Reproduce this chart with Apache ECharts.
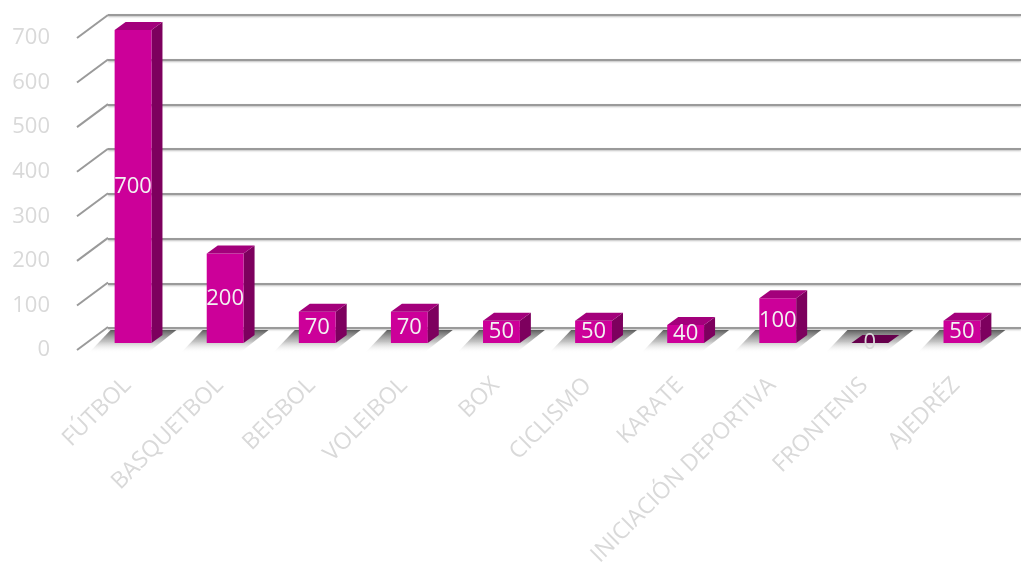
<!DOCTYPE html>
<html>
<head>
<meta charset="utf-8">
<script src="https://cdn.jsdelivr.net/npm/echarts@6/dist/echarts.min.js"></script>
<style>
  html, body { margin: 0; padding: 0; background: #fff; }
  #chart { width: 1021px; height: 563px; }
</style>
</head>
<body>
<div id="chart"></div>
<script>
const categories = ['FÚTBOL', 'BASQUETBOL', 'BEISBOL', 'VOLEIBOL', 'BOX', 'CICLISMO', 'KARATE', 'INICIACIÓN DEPORTIVA', 'FRONTENIS', 'AJEDRÉZ'];
const values = [700, 200, 70, 70, 50, 50, 40, 100, 0, 50];
const yTicks = [0, 100, 200, 300, 400, 500, 600, 700];

// 3d look: wall depth and bar depth (pixels)
const WALL_DX = 31, WALL_DY = -23;
const BAR_DX = 11, BAR_DY = -8;
const FONT = 'Open Sans';

const chart = echarts.init(document.getElementById('chart'));

function barGeom(api) {
  const i = api.value(0), v = api.value(1);
  const base = api.coord([i, 0]);
  const top = api.coord([i, v]);
  const w = api.size([1, 0])[0] * 0.4;
  return { v: v, cx: base[0], xl: base[0] - w / 2, xr: base[0] + w / 2, yb: base[1], yt: top[1], w: w };
}

function renderShadow(params, api) {
  const g = barGeom(api);
  const yTop = g.yb - 13, yBot = g.yb + 10;
  return {
    type: 'polygon',
    shape: { points: [[g.xl - 4, yTop], [g.xr + BAR_DX + 14, yTop], [g.xr - 4, yBot], [g.xl - 26, yBot]] },
    style: {
      fill: new echarts.graphic.LinearGradient(0, 0, 0, 1, [
        { offset: 0, color: 'rgba(40,40,40,0.75)' },
        { offset: 0.5, color: 'rgba(120,120,120,0.45)' },
        { offset: 1, color: 'rgba(255,255,255,0)' }
      ])
    }
  };
}

function renderBar(params, api) {
  const g = barGeom(api);
  const children = [];
  if (g.v > 0) {
    children.push({
      type: 'polygon',
      shape: { points: [[g.xr, g.yb], [g.xr + BAR_DX, g.yb + BAR_DY], [g.xr + BAR_DX, g.yt + BAR_DY], [g.xr, g.yt]] },
      style: { fill: '#7d005e' }
    });
    children.push({
      type: 'rect',
      shape: { x: g.xl, y: g.yt, width: g.w, height: g.yb - g.yt },
      style: { fill: '#cc0099' }
    });
  }
  children.push({
    type: 'polygon',
    shape: { points: [[g.xl, g.yt], [g.xr, g.yt], [g.xr + BAR_DX, g.yt + BAR_DY], [g.xl + BAR_DX, g.yt + BAR_DY]] },
    style: { fill: g.v > 0 ? '#a3007b' : '#66004c' }
  });
  children.push({
    type: 'text',
    style: {
      text: String(g.v), x: g.cx, y: (g.yt + g.yb) / 2,
      align: 'center', verticalAlign: 'middle',
      fill: g.v > 0 ? '#f2f2f2' : '#d9d9d9', fontSize: 22, fontFamily: FONT
    }
  });
  return { type: 'group', children: children };
}

function renderTick(params, api) {
  const p = api.coord([0, api.value(1)]);
  return {
    type: 'line',
    shape: { x1: p[0], y1: p[1], x2: p[0] + WALL_DX, y2: p[1] + WALL_DY },
    style: { stroke: '#9a9a9a', lineWidth: 2 }
  };
}

const option = {
  backgroundColor: '#fff',
  animation: false,
  grid: [
    // back wall
    { left: 108, right: 0, top: 15, height: 313, outerBoundsMode: 'none' },
    // front edge, carries the value labels
    { left: 77, width: 31, top: 38, height: 312, outerBoundsMode: 'none' },
    // bar front plane
    { left: 87, width: 921, top: 30, height: 313, outerBoundsMode: 'none' }
  ],
  xAxis: [
    { gridIndex: 0, type: 'value', min: 0, max: 1, show: false },
    { gridIndex: 1, type: 'value', min: 0, max: 1, show: false },
    {
      gridIndex: 2, type: 'category', data: categories,
      axisLine: { show: false }, axisTick: { show: false },
      axisLabel: {
        interval: 0, rotate: 45, margin: 33, padding: [0, 8, 0, 0],
        color: '#d9d9d9', fontSize: 23, fontFamily: FONT
      }
    }
  ],
  yAxis: [
    {
      gridIndex: 0, type: 'value', min: 0, max: 700, interval: 100,
      axisLine: { show: false }, axisTick: { show: false }, axisLabel: { show: false },
      splitLine: { lineStyle: { color: '#9a9a9a', width: 2, shadowColor: 'rgba(0,0,0,0.25)', shadowBlur: 2, shadowOffsetY: 1 } }
    },
    {
      gridIndex: 1, type: 'value', min: 0, max: 700, interval: 100,
      axisLine: { show: false }, axisTick: { show: false }, splitLine: { show: false },
      axisLabel: { margin: 27, color: '#d9d9d9', fontSize: 22, fontFamily: FONT }
    },
    { gridIndex: 2, type: 'value', min: 0, max: 700, show: false }
  ],
  series: [
    {
      type: 'custom', xAxisIndex: 1, yAxisIndex: 1,
      data: yTicks.map(v => [0, v]),
      renderItem: renderTick, silent: true
    },
    {
      type: 'custom', xAxisIndex: 2, yAxisIndex: 2, z: 2,
      data: values.map((v, i) => [i, v]),
      renderItem: renderShadow, silent: true
    },
    {
      type: 'custom', xAxisIndex: 2, yAxisIndex: 2, z: 3,
      data: values.map((v, i) => [i, v]),
      renderItem: renderBar
    }
  ]
};

chart.setOption(option);
</script>
</body>
</html>
